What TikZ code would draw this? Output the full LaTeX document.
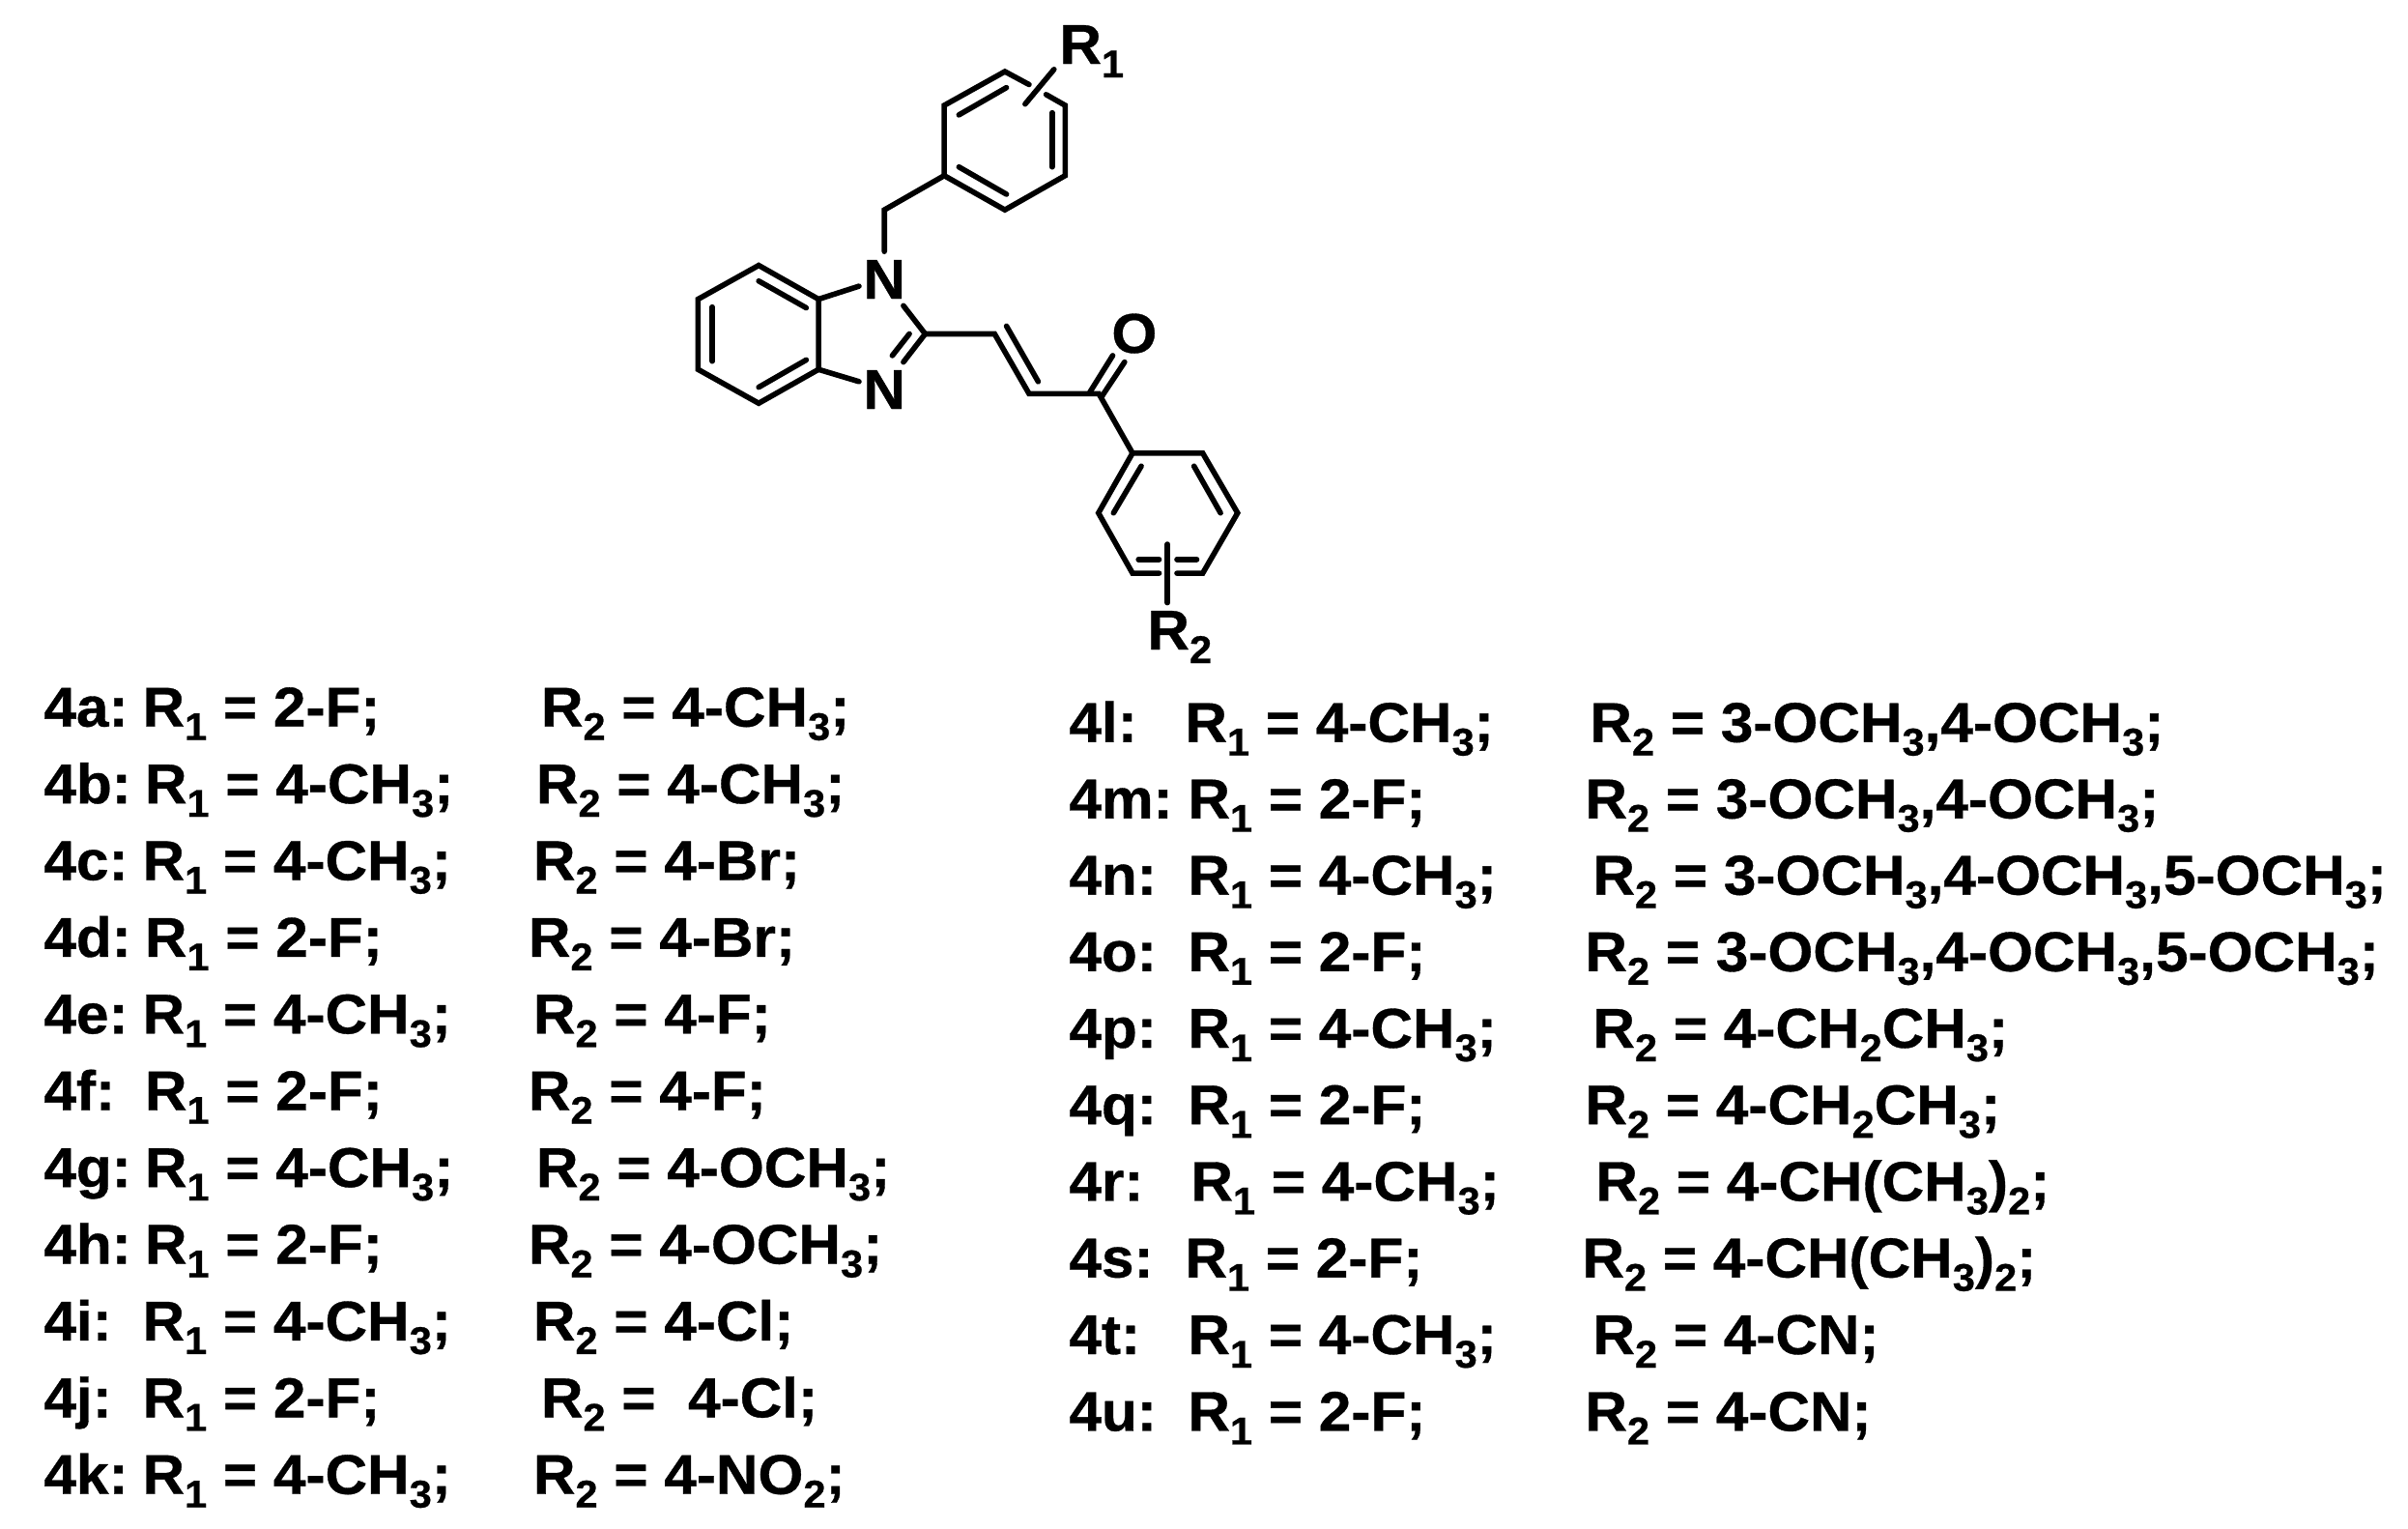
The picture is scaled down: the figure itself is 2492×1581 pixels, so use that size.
\documentclass[tikz,border=0pt]{standalone}
\usepackage{fontspec}
\setmainfont{Liberation Sans}[BoldFont={Liberation Sans Bold},BoldFeatures={FakeStretch=1.04,FakeBold=0.6}]
\newcommand{\dn}[1]{\raisebox{-7pt}{\fontsize{20}{21}\selectfont #1}}
\newcommand{\Rr}[1]{R\dn{#1}}
\newcommand{\shiftx}{1}
\tikzset{
  bond/.style={line width=2.8pt,line cap=round,line join=miter,black},
  atom/.style={inner sep=0pt,anchor=base west,font=\fontsize{29}{30}\selectfont\bfseries,black},
  txt/.style={inner sep=0pt,anchor=base west,font=\fontsize{29}{30}\selectfont\bfseries,black},
}
\newcommand{\entry}[8]{%
  \node[txt] (l#1) at (#3,#2) {#4};
  \node[txt] (a#1) at (#5-4.5-\shiftx,#2) {\Rr{1} = #6};
  \node[txt] (b#1) at (#7-5.5-\shiftx,#2) {\Rr{2} = #8};
}
\begin{document}
\begin{tikzpicture}[x=0.5pt,y=-0.5pt]
\useasboundingbox[fill=white] (0,0) rectangle (2492,1581);
% molecule, in a local frame
\begin{scope}[shift={(678.5,0)},x=0.20513pt,y=-0.22432pt]
\coordinate (A1) at (728,405);\coordinate (A2) at (728,243);\coordinate (A3) at (881,165);
\coordinate (A4) at (1033,243);\coordinate (A5) at (1033,405);\coordinate (A6) at (881,484);
\coordinate (CH) at (577,484);
\coordinate (B1) at (411,690);\coordinate (B2) at (260,612);\coordinate (B3) at (107,690);
\coordinate (B4) at (107,852);\coordinate (B5) at (260,930);\coordinate (B6) at (411,852);
\coordinate (C2) at (680,770);\coordinate (V1) at (855,770);\coordinate (V2) at (942,908);
\coordinate (CO) at (1118,908);
\coordinate (D1) at (1203,1045);\coordinate (D2) at (1380,1045);\coordinate (D3) at (1468,1183);
\coordinate (D4) at (1380,1322);\coordinate (D5) at (1203,1322);\coordinate (D6) at (1117,1183);
% benzyl ring
\draw[bond] (942,195) -- (A3) -- (A2) -- (A1) -- (A6) -- (A5) -- (A4) -- (985,218);
\draw[bond] (765,265) -- (885,202);
\draw[bond] (1000,260) -- (1000,385);
\draw[bond] (765,385) -- (885,448);
\draw[bond] (932,240) -- (1005,160);
\draw[bond] (A1) -- (CH) -- (577,580);
% benzimidazole
\draw[bond] (B1) -- (B2) -- (B3) -- (B4) -- (B5) -- (B6) -- cycle;
\draw[bond] (260,648) -- (380,710);
\draw[bond] (143,708) -- (143,833);
\draw[bond] (260,893) -- (380,830);
\draw[bond] (B1) -- (513,660);
\draw[bond] (B6) -- (513,880);
\draw[bond] (625,705) -- (C2) -- (625,835);
\draw[bond] (640,770) -- (597,820);
% enone
\draw[bond] (C2) -- (V1) -- (V2) -- (CO) -- (D1);
\draw[bond] (885,752) -- (965,880);
\draw[bond] (1095,905) -- (1153,820);
\draw[bond] (1125,915) -- (1183,835);
% aryl ring
\draw[bond] (1270,1322) -- (D5) -- (D6) -- (D1) -- (D2) -- (D3) -- (D4) -- (1315,1322);
\draw[bond] (1225,1075) -- (1155,1183);
\draw[bond] (1358,1075) -- (1425,1183);
\draw[bond] (1218,1290) -- (1270,1290);
\draw[bond] (1315,1290) -- (1365,1290);
\draw[bond] (1291,1255) -- (1291,1390);
\end{scope}
\node[atom] (r1) at (1096,66) {\Rr{1}};
\node[atom] (n1) at (893,309) {N};
\node[atom] (n3) at (893,423) {N};
\node[atom] (o1) at (1150,365) {O};
\node[atom] (r2) at (1187,672) {\Rr{2}};
% left column
\entry{a}{751.7}{45}{4a:}{152.6}{2-F;}{566}{4-CH\dn{3};}
\entry{b}{831.1}{45}{4b:}{155}{4-CH\dn{3};}{561}{4-CH\dn{3};}
\entry{c}{910.5}{45}{4c:}{152.6}{4-CH\dn{3};}{558}{4-Br;}
\entry{d}{989.9}{45}{4d:}{155}{2-F;}{553}{4-Br;}
\entry{e}{1069.3}{45}{4e:}{152.6}{4-CH\dn{3};}{558}{4-F;}
\entry{f}{1148.7}{45}{4f:}{155}{2-F;}{553}{4-F;}
\entry{g}{1228.1}{45}{4g:}{155}{4-CH\dn{3};}{561}{4-OCH\dn{3};}
\entry{h}{1307.5}{45}{4h:}{155}{2-F;}{553}{4-OCH\dn{3};}
\entry{i}{1386.9}{45}{4i:}{152.6}{4-CH\dn{3};}{558}{4-Cl;}
\entry{j}{1466.3}{45}{4j:}{152.6}{2-F;}{566}{\ 4-Cl;}
\entry{k}{1545.7}{45}{4k:}{152.6}{4-CH\dn{3};}{558}{4-NO\dn{2};}
% right column
\renewcommand{\shiftx}{4.5}
\entry{l}{767.6}{1106}{4l:}{1235}{4-CH\dn{3};}{1655}{3-OCH\dn{3},4-OCH\dn{3};}
\entry{m}{846.6}{1106}{4m:}{1238}{2-F;}{1650}{3-OCH\dn{3},4-OCH\dn{3};}
\entry{n}{925.6}{1106}{4n:}{1238}{4-CH\dn{3};}{1658}{3-OCH\dn{3},4-OCH\dn{3},5-OCH\dn{3};}
\entry{o}{1004.8}{1106}{4o:}{1238}{2-F;}{1650}{3-OCH\dn{3},4-OCH\dn{3},5-OCH\dn{3};}
\entry{p}{1084}{1106}{4p:}{1238}{4-CH\dn{3};}{1658}{4-CH\dn{2}CH\dn{3};}
\entry{q}{1163.2}{1106}{4q:}{1238}{2-F;}{1650}{4-CH\dn{2}CH\dn{3};}
\entry{r}{1242.4}{1106}{4r:}{1241}{4-CH\dn{3};}{1661}{4-CH(CH\dn{3})\dn{2};}
\entry{s}{1321.6}{1106}{4s:}{1235}{2-F;}{1647}{4-CH(CH\dn{3})\dn{2};}
\entry{t}{1401}{1106}{4t:}{1238}{4-CH\dn{3};}{1658}{4-CN;}
\entry{u}{1480.4}{1106}{4u:}{1238}{2-F;}{1650}{4-CN;}
\end{tikzpicture}
\end{document}
